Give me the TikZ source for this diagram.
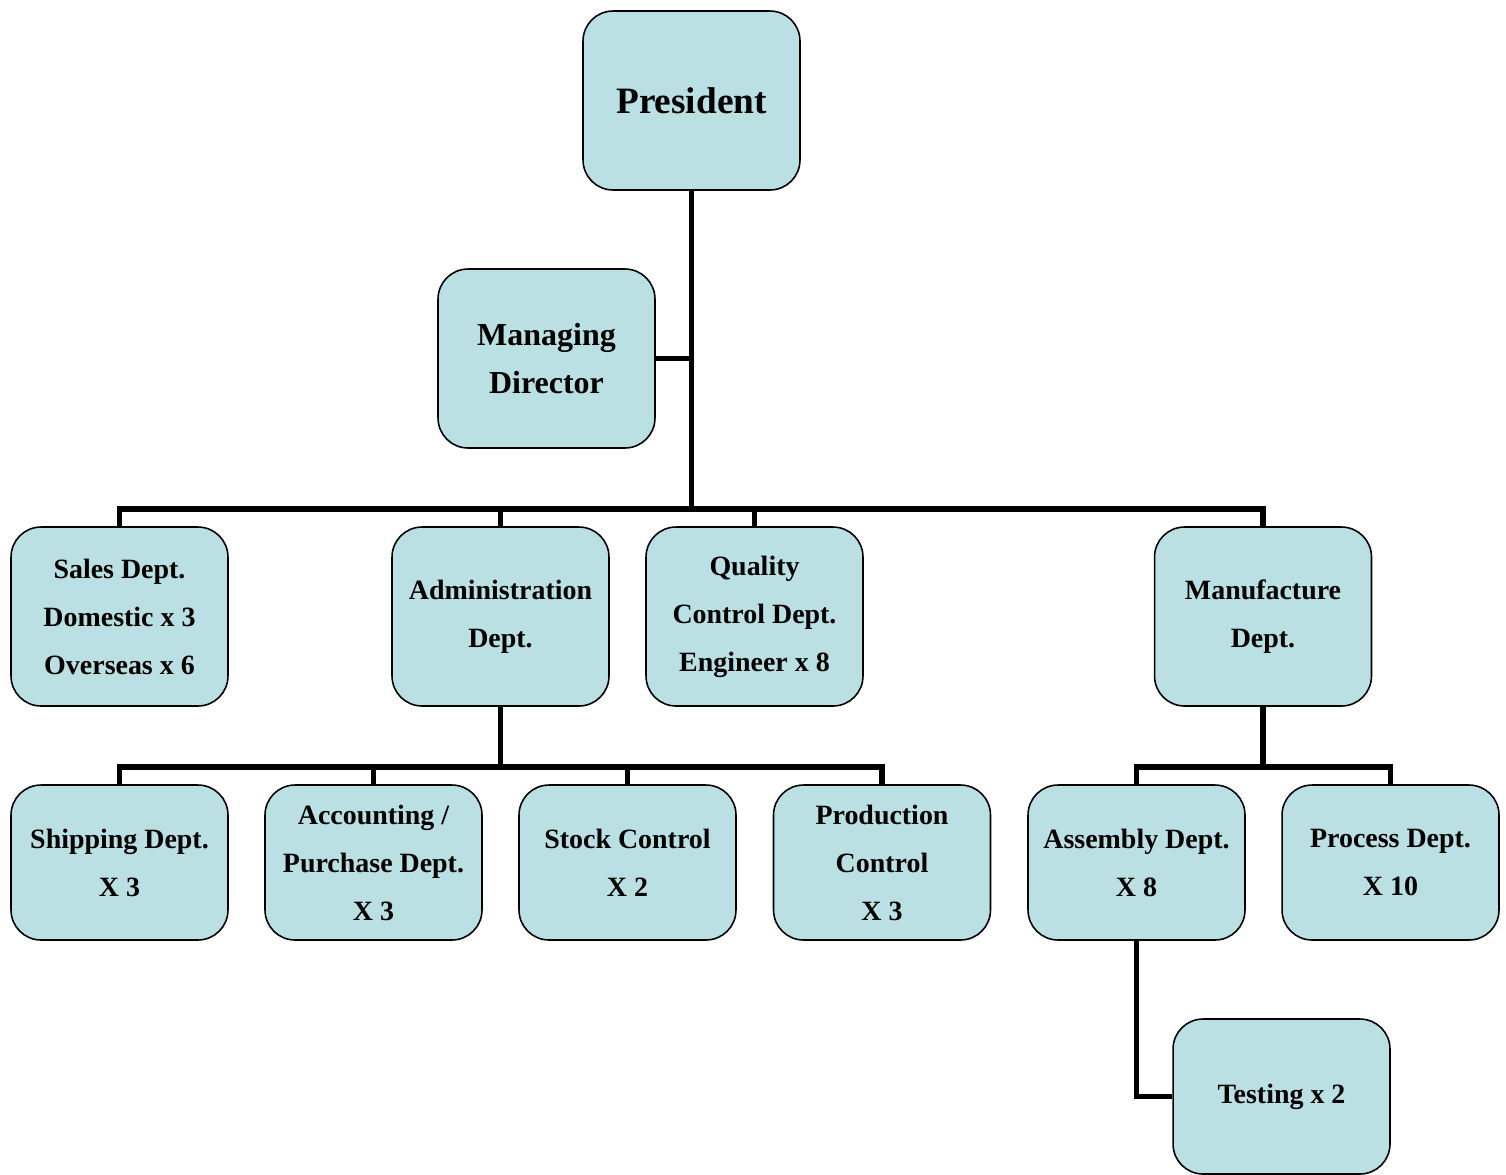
\documentclass[tikz,border=0pt]{standalone}
\usepackage{fontspec}
\setmainfont{Liberation Serif}
\definecolor{boxfill}{HTML}{BAE0E4}
\tikzset{
  dept/.style={shape=rectangle,rounded corners=0.6cm,draw=black,line width=0.9pt,
    fill=boxfill,align=center,minimum width=4.34cm,minimum height=3.1cm,
    font=\bfseries\fontsize{15.9}{27.3}\selectfont},
  bigdept/.style={dept,minimum height=3.58cm},
  link/.style={line width=2.9pt,line join=miter}
}
\begin{document}
\begin{tikzpicture}[x=0.02cm,y=-0.02cm]
    \useasboundingbox (0,0) rectangle (1506,1174);
    \node[bigdept,font=\bfseries\fontsize{21.2}{28}\selectfont] (P) at (691.5,100.5) {President};
    \node[bigdept,font=\bfseries\fontsize{18.2}{27.5}\selectfont] (MD) at (546.5,358.5) {Managing\\Director};
    \node[bigdept] (S) at (119.5,616.5) {Sales Dept.\\Domestic x 3\\Overseas x 6};
    \node[bigdept] (A) at (500.5,616.5) {Administration\\Dept.\\[-24pt]};
    \node[bigdept] (Q) at (754.5,616.5) {Quality\\Control Dept.\\Engineer x 8};
    \node[bigdept] (M) at (1263,616.5) {Manufacture\\Dept.\\[-24pt]};
    \node[dept] (SH) at (119.5,862.5) {Shipping Dept.\\X 3};
    \node[dept] (AC) at (373.5,862.5) {Accounting /\\Purchase Dept.\\X 3};
    \node[dept] (SC) at (627.5,862.5) {Stock Control\\X 2};
    \node[dept] (PC) at (882,862.5) {Production\\Control\\X 3};
    \node[dept] (AS) at (1136.5,862.5) {Assembly Dept.\\X 8};
    \node[dept] (PR) at (1390.5,862.5) {Process Dept.\\X 10};
    \node[dept] (T) at (1281.5,1096.5) {Testing x 2};
    \coordinate (bus1) at (691.5,509);
    \coordinate (bus2) at (500.5,767);
    \coordinate (bus3) at (1263,767);
    % top level
    \draw[link] (P.south) -- (bus1);
    \draw[link] (MD.east) -- (MD.east -| P.south);
    \draw[link] (S.north) |- (bus1) -| (M.north);
    \draw[link] (A.north) -- (A.north |- bus1);
    \draw[link] (Q.north) -- (Q.north |- bus1);
    % administration
    \draw[link] (A.south) -- (bus2);
    \draw[link] (SH.north) |- (bus2) -| (PC.north);
    \draw[link] (AC.north) -- (AC.north |- bus2);
    \draw[link] (SC.north) -- (SC.north |- bus2);
    % manufacture
    \draw[link] (M.south) -- (bus3);
    \draw[link] (AS.north) |- (bus3) -| (PR.north);
    \draw[link] (AS.south) |- (T.west);
\end{tikzpicture}
\end{document}
